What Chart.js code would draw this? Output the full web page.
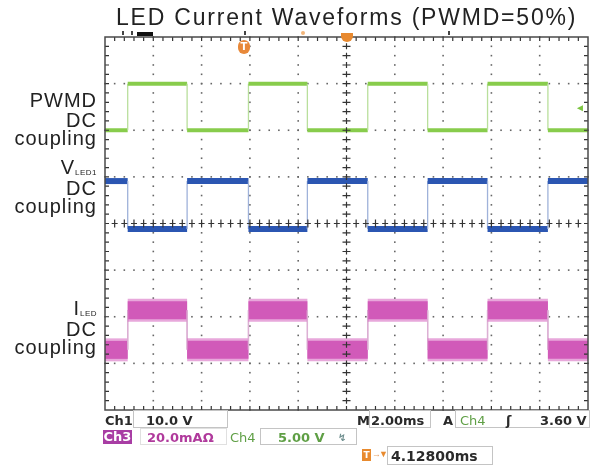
<!DOCTYPE html>
<html lang="en">
<head>
    <meta charset="UTF-8">
    <title>LED Current Waveforms (PWMD=50%)</title>
    <script src="https://cdn.jsdelivr.net/npm/chart.js"></script>
    <style>
        body { margin: 0; background: #fff; font-family: 'Liberation Sans', Arial, sans-serif; }
        #wrap { position: relative; width: 598px; height: 470px; overflow: hidden; }
        #scope { position: absolute; left: 0; top: 0; }
        #title { position: absolute; left: 116px; top: 6px; font-size: 23px; line-height: 23px; letter-spacing: 1.8px; color: #222; white-space: nowrap; }
        .lbl { position: absolute; right: 501px; font-size: 20px; line-height: 20px; letter-spacing: 1px; color: #222; white-space: nowrap; text-align: right; }
        .lbl sub { font-size: 8px; letter-spacing: 0.5px; vertical-align: baseline; position: relative; top: 1px; }
        .st { position: absolute; font-family: 'DejaVu Sans', sans-serif; font-weight: bold; font-size: 13px; line-height: 13px; color: #2a2a2a; white-space: nowrap; }
        .box { position: absolute; border: 1px solid #c4c4c4; box-sizing: border-box; }
        .mk { position: absolute; }
    </style>
</head>
<body>
<div id="wrap">
    <canvas id="scope" width="598" height="470"></canvas>

    <div id="title">LED Current Waveforms (PWMD=50%)</div>

    <!-- channel labels -->
    <div class="lbl" style="top:90px">PWMD</div>
    <div class="lbl" style="top:110px">DC</div>
    <div class="lbl" style="top:128px">coupling</div>
    <div class="lbl" style="top:157px">V<sub>LED1</sub></div>
    <div class="lbl" style="top:178px">DC</div>
    <div class="lbl" style="top:196px">coupling</div>
    <div class="lbl" style="top:298px">I<sub>LED</sub></div>
    <div class="lbl" style="top:319px">DC</div>
    <div class="lbl" style="top:337px">coupling</div>

    <!-- marks above / inside the graticule -->
    <div class="mk" style="left:137px;top:32px;width:16px;height:4px;background:#111"></div>
    <div class="mk" style="left:122px;top:31px;width:1.5px;height:4px;background:#444"></div>
    <div class="mk" style="left:131px;top:31px;width:1.5px;height:4px;background:#444"></div>
    <div class="mk" style="left:244px;top:31px;width:1.5px;height:4px;background:#444"></div>
    <div class="mk" style="left:448px;top:31px;width:1.5px;height:4px;background:#444"></div>
    <div class="mk" style="left:301px;top:31px;width:4px;height:4px;background:#f2b57a;border-radius:2px"></div>
    <div class="mk" style="left:341px;top:33px;width:12px;height:9px;background:#e8892f;border-radius:0 0 6px 6px"></div>
    <div class="mk" style="left:238px;top:40px;width:12px;height:14px;background:#e8893a;border-radius:6px;color:#fff;font:bold 10px 'DejaVu Sans';line-height:14px;text-align:center">T</div>
    <div class="mk" style="left:575px;top:102px;color:#7cc440;font-size:10px">&#9668;</div>

    <!-- status readout -->
    <div class="st" style="left:105px;top:414px">Ch1</div>
    <div class="box" style="left:133px;top:410px;width:95px;height:18px"></div>
    <div class="st" style="left:146px;top:414px">10.0 V</div>
    <div class="st" style="left:357px;top:414px">M</div>
    <div class="box" style="left:369px;top:410px;width:62px;height:18px"></div>
    <div class="st" style="left:371px;top:414px">2.00ms</div>
    <div class="st" style="left:443px;top:414px">A</div>
    <div class="box" style="left:455px;top:410px;width:135px;height:18px"></div>
    <div class="st" style="left:460px;top:414px;color:#5f9f45;font-weight:normal">Ch4</div>
    <div class="st" style="left:506px;top:414px">ʃ</div>
    <div class="st" style="left:540px;top:414px">3.60 V</div>

    <div class="st" style="left:103px;top:430px;width:29px;height:14px;background:#a83da4;color:#fff;text-align:center;line-height:14px">Ch3</div>
    <div class="box" style="left:140px;top:428px;width:87px;height:17px;border-color:#e0e0e0"></div>
    <div class="st" style="left:147px;top:431px;color:#b03a9c">20.0mAΩ</div>
    <div class="st" style="left:230px;top:431px;color:#5f9f45;font-weight:normal">Ch4</div>
    <div class="box" style="left:260px;top:428px;width:97px;height:17px"></div>
    <div class="st" style="left:278px;top:431px;color:#5f9f45">5.00 V</div>
    <div class="st" style="left:338px;top:431px;color:#6f8f8f;font-size:10px">↯</div>

    <div class="mk" style="left:362px;top:449px;width:9px;height:12px;background:#e88a2e;color:#fff;font:bold 9px 'DejaVu Sans';line-height:12px;text-align:center">T</div>
    <div class="mk" style="left:372px;top:449px;color:#e6a36a;font-size:9px">→</div>
    <div class="mk" style="left:379px;top:449px;color:#e88a2e;font-size:9px">▼</div>
    <div class="box" style="left:387px;top:446px;width:106px;height:19px"></div>
    <div class="st" style="left:391px;top:449px;font-size:14px;line-height:14px">4.12800ms</div>
</div>

<script>
    // time axis in divisions (2.00 ms/div), edge instants of the 50% PWM
    const timeDiv = [0, 0.47, 1.70, 2.97, 4.19, 5.44, 6.68, 7.92, 9.17, 10];
    // level (in screen divisions) held between consecutive edge instants
    const pwmdLevel = [2.0, 3.0, 2.0, 3.0, 2.0, 3.0, 2.0, 3.0, 2.0];
    const vledLevel = [0.91, -0.12, 0.91, -0.12, 0.91, -0.12, 0.91, -0.12, 0.91];
    const iledLevel = [-2.71, -1.86, -2.71, -1.86, -2.71, -1.86, -2.71, -1.86, -2.71];

    // square wave: horizontal run for each interval, vertical at each edge
    function buildTrace(levels) {
        const pts = [];
        for (let i = 0; i < levels.length; i++) {
            pts.push({ x: timeDiv[i], y: levels[i] });
            pts.push({ x: timeDiv[i + 1], y: levels[i] });
        }
        return pts;
    }

    const isEdge = c => c.p0.parsed.x === c.p1.parsed.x;

    function trace(levels, color, edgeColor, width) {
        return {
            data: buildTrace(levels),
            borderColor: color,
            borderWidth: width,
            borderCapStyle: 'butt',
            pointRadius: 0,
            tension: 0,
            segment: {
                borderColor: c => isEdge(c) ? edgeColor : color,
                borderWidth: c => isEdge(c) ? 1.3 : width
            }
        };
    }

    // graticule: dotted divisions, centre cross with minor ticks, framed edges
    const graticule = {
        id: 'graticule',
        beforeDatasetsDraw(chart) {
            const { ctx, scales: { x, y } } = chart;
            ctx.save();
            ctx.fillStyle = '#666';
            for (let i = 1; i < 10; i++) {
                if (i === 5) continue;
                const px = x.getPixelForValue(i);
                for (let k = 0; k <= 40; k++) {
                    const py = y.getPixelForValue(-4 + k * 0.2);
                    ctx.fillRect(px - 0.8, py - 0.8, 1.6, 1.6);
                }
            }
            for (let j = -3; j <= 3; j++) {
                if (j === 0) continue;
                const py = y.getPixelForValue(j);
                for (let k = 0; k <= 50; k++) {
                    const px = x.getPixelForValue(k * 0.2);
                    ctx.fillRect(px - 0.8, py - 0.8, 1.6, 1.6);
                }
            }
            ctx.restore();
        },
        afterDatasetsDraw(chart) {
            const { ctx, chartArea: a, scales: { x, y } } = chart;
            const cx = x.getPixelForValue(5), cy = y.getPixelForValue(0);
            ctx.save();
            ctx.strokeStyle = '#333';
            ctx.lineWidth = 1.2;
            ctx.beginPath();
            for (let k = 1; k < 50; k++) {
                const px = x.getPixelForValue(k * 0.2);
                ctx.moveTo(px - 3, cy); ctx.lineTo(px + 3, cy);
                ctx.moveTo(px, cy - 4); ctx.lineTo(px, cy + 4);
            }
            for (let k = 1; k < 40; k++) {
                const py = y.getPixelForValue(-4 + k * 0.2);
                ctx.moveTo(cx, py - 3); ctx.lineTo(cx, py + 3);
                ctx.moveTo(cx - 4, py); ctx.lineTo(cx + 4, py);
            }
            // minor ticks along the frame
            for (let k = 1; k < 50; k++) {
                const px = x.getPixelForValue(k * 0.2);
                ctx.moveTo(px, a.top); ctx.lineTo(px, a.top + 4);
                ctx.moveTo(px, a.bottom); ctx.lineTo(px, a.bottom - 4);
            }
            for (let k = 1; k < 40; k++) {
                const py = y.getPixelForValue(-4 + k * 0.2);
                ctx.moveTo(a.left, py); ctx.lineTo(a.left + 4, py);
                ctx.moveTo(a.right, py); ctx.lineTo(a.right - 4, py);
            }
            ctx.stroke();
            ctx.strokeStyle = '#4a4a4a';
            ctx.lineWidth = 1.5;
            ctx.strokeRect(a.left, a.top, a.width, a.height);
            ctx.restore();
        }
    };

    new Chart(document.getElementById('scope'), {
        type: 'line',
        data: {
            datasets: [
                trace(iledLevel, 'rgba(214,96,190,0.55)', '#dcb0d4', 23),
                trace(iledLevel, '#cc52b4', '#d8a6cf', 18),
                trace(vledLevel, '#2b56b2', '#9fb2da', 6),
                trace(pwmdLevel, '#88cc4c', '#b9df9c', 4)
            ]
        },
        options: {
            responsive: false,
            animation: false,
            layout: { padding: { left: 105, right: 10, top: 37, bottom: 60 } },
            scales: {
                x: { type: 'linear', min: 0, max: 10, display: false },
                y: { type: 'linear', min: -4, max: 4, display: false }
            },
            plugins: { legend: { display: false }, tooltip: { enabled: false } }
        },
        plugins: [graticule]
    });
</script>
</body>
</html>
